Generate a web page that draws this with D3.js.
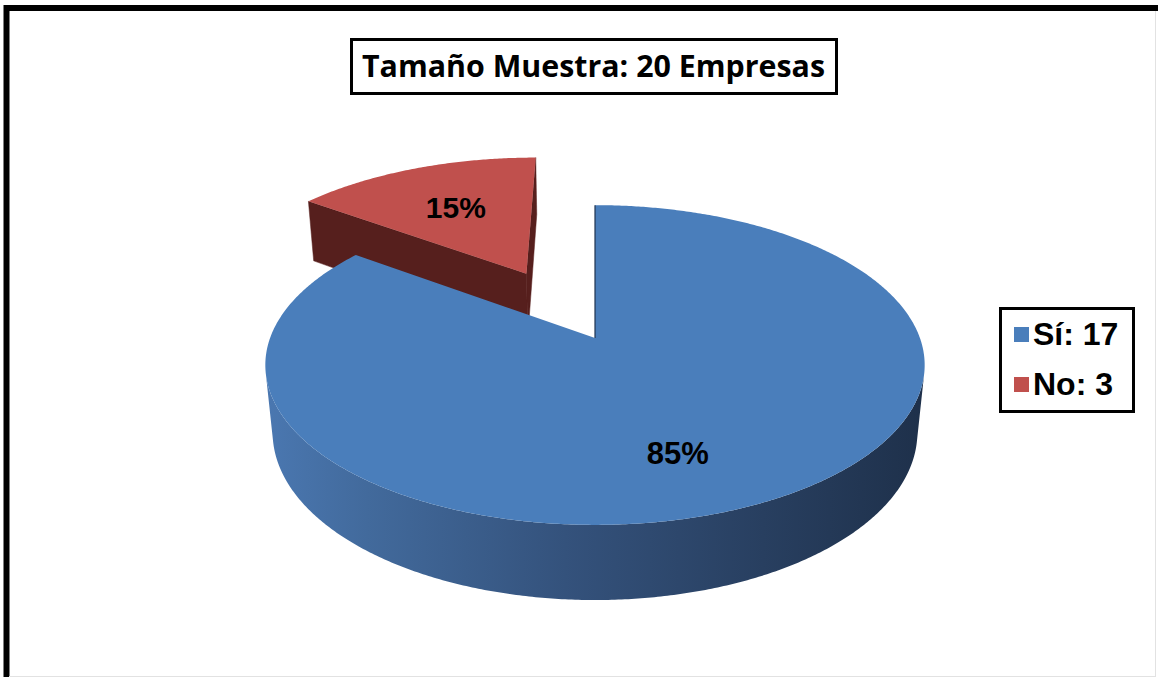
<!DOCTYPE html>
<html>
<head>
<meta charset="utf-8">
<script src="https://cdn.jsdelivr.net/npm/d3@7"></script>
<style>
  body { margin: 0; background: #fff; }
  svg { display: block; }
</style>
</head>
<body>
<div id="chart"></div>
<script>
// chart data
const categories = ["Sí", "No"];
const counts = [17, 3];
const topColors = ["#4a7ebb", "#c0504d"];
const cutColors = ["#1f3350", "#561f1d"];
const explodeBy = [0, 0.5];
const titleWord = "Tamaño Muestra:";
const titleUnit = "Empresas";

const width = 1158, height = 677;
const total = d3.sum(counts);

const svg = d3.select("#chart").append("svg")
    .attr("width", width)
    .attr("height", height);

// blue side gradient, light on the left and dark on the right
const defs = svg.append("defs");
const grad = defs.append("linearGradient")
    .attr("id", "sideBlue")
    .attr("gradientUnits", "userSpaceOnUse")
    .attr("x1", 268).attr("x2", 928).attr("y1", 0).attr("y2", 0);
grad.selectAll("stop")
    .data([[0, "#4a77b0"], [0.15, "#426a9c"], [0.45, "#34527c"], [0.75, "#283f60"], [1, "#1e304a"]])
    .enter().append("stop")
    .attr("offset", d => d[0] * 100 + "%")
    .attr("stop-color", d => d[1]);

// outer frame
svg.append("line").attr("x1", 6.5).attr("x2", 6.5).attr("y1", 5).attr("y2", height)
    .attr("stroke", "#000").attr("stroke-width", 6);
svg.append("line").attr("x1", 4).attr("x2", width).attr("y1", 8).attr("y2", 8)
    .attr("stroke", "#000").attr("stroke-width", 6);
svg.append("line").attr("x1", 1155.5).attr("x2", 1155.5).attr("y1", 11).attr("y2", height)
    .attr("stroke", "#e2e2e2").attr("stroke-width", 1);
svg.append("line").attr("x1", 9).attr("x2", 1156).attr("y1", 676.5).attr("y2", 676.5)
    .attr("stroke", "#e2e2e2").attr("stroke-width", 1);

// simple perspective camera for the 3d pie
const cam = {
    ox: 595, oy: 338,        // screen position of pie centre
    f: 1688, D: 5.195,       // focal length, camera distance (radius = 1)
    cos: 0.878, sin: 0.478,  // elevation angle
    h: 0.239                 // pie thickness
};
const camPos = [0, cam.D * cam.sin, cam.D * cam.cos];

function project(X, Y, Z) {
    const yc = Y * cam.cos - Z * cam.sin;
    const depth = cam.D - Y * cam.sin - Z * cam.cos;
    return [cam.ox + cam.f * X / depth, cam.oy - cam.f * yc / depth];
}

// visible if the face normal points towards the camera
function facing(n, p) {
    return n[0] * (camPos[0] - p[0]) + n[1] * (camPos[1] - p[1]) + n[2] * (camPos[2] - p[2]) > 0;
}

const pie = d3.pie().sort(null).startAngle(0).endAngle(2 * Math.PI);
const arcs = pie(counts);
const line = d3.line();

arcs.forEach((a, i) => {
    const mid = (a.startAngle + a.endAngle) / 2;
    a.offX = explodeBy[i] * Math.sin(mid);
    a.offZ = -explodeBy[i] * Math.cos(mid);
    a.index = i;
});

const rim = (a, t, Y) => project(a.offX + Math.sin(t), Y, a.offZ - Math.cos(t));
const centre = (a, Y) => project(a.offX, Y, a.offZ);

// back slice first, then the front slice covers it
const order = arcs.slice().sort((p, q) => q.index - p.index);
const pieG = svg.append("g");

order.forEach(a => {
    const g = pieG.append("g");
    const i = a.index;
    const steps = Math.max(8, Math.ceil((a.endAngle - a.startAngle) / (Math.PI / 360)));
    const ts = d3.range(steps + 1).map(k => a.startAngle + (a.endAngle - a.startAngle) * k / steps);

    // cut faces
    [[a.startAngle, -1], [a.endAngle, 1]].forEach(([t, s]) => {
        const n = [s * Math.cos(t), 0, s * Math.sin(t)];
        if (!facing(n, [a.offX, 0, a.offZ])) return;
        g.append("path")
            .attr("d", line([centre(a, 0), rim(a, t, 0), rim(a, t, -cam.h), centre(a, -cam.h)]) + "Z")
            .attr("fill", cutColors[i])
            .attr("stroke", cutColors[i]).attr("stroke-width", 0.5);
    });

    // outer side: one polygon per run of camera-facing angles
    const runs = [];
    let run = null;
    ts.forEach(t => {
        const n = [Math.sin(t), 0, -Math.cos(t)];
        const p = [a.offX + Math.sin(t), -cam.h / 2, a.offZ - Math.cos(t)];
        if (facing(n, p)) {
            if (!run) { run = []; runs.push(run); }
            run.push(t);
        } else {
            run = null;
        }
    });
    const sideFill = i === 0 ? "url(#sideBlue)" : cutColors[i];
    runs.filter(r => r.length > 1).forEach(r => {
        const pts = r.map(t => rim(a, t, 0)).concat(r.slice().reverse().map(t => rim(a, t, -cam.h)));
        g.append("path")
            .attr("d", line(pts) + "Z")
            .attr("fill", sideFill);
    });

    // top face
    g.append("path")
        .attr("d", line([centre(a, 0)].concat(ts.map(t => rim(a, t, 0)))) + "Z")
        .attr("fill", topColors[i]);
});

// thin dark edge at the 12 o'clock cut of the big slice
svg.append("path")
    .attr("d", line([centre(arcs[0], 0), rim(arcs[0], 0, 0)]))
    .attr("stroke", "#1f3350").attr("stroke-width", 1.2);

// percentage labels
const labelPlace = [{ angle: 161, r: 0.695 }, { angle: 333, r: 0.6 }];
const fmt = d3.format(".0%");
arcs.forEach((a, i) => {
    const t = labelPlace[i].angle * Math.PI / 180, r = labelPlace[i].r;
    const p = project(a.offX + r * Math.sin(t), 0, a.offZ - r * Math.cos(t));
    svg.append("text")
        .attr("x", p[0]).attr("y", p[1] + 11)
        .attr("text-anchor", "middle")
        .style("font-family", "'Liberation Sans', Arial, sans-serif")
        .style("font-weight", "bold")
        .style("font-size", i === 0 ? "31px" : "30px")
        .attr("fill", "#000")
        .text(fmt(a.value / total));
});

// title box
svg.append("rect")
    .attr("x", 351.5).attr("y", 39.5).attr("width", 485).attr("height", 54)
    .attr("fill", "#fff").attr("stroke", "#000").attr("stroke-width", 3);
svg.append("text")
    .attr("x", 593.5).attr("y", 77)
    .attr("text-anchor", "middle")
    .attr("textLength", 463).attr("lengthAdjust", "spacingAndGlyphs")
    .style("font-family", "'Open Sans', sans-serif")
    .style("font-weight", "bold")
    .style("font-size", "30px")
    .text(`${titleWord} ${total} ${titleUnit}`);

// legend
const legend = svg.append("g");
legend.append("rect")
    .attr("x", 1000.5).attr("y", 308.5).attr("width", 133).attr("height", 103)
    .attr("fill", "#fff").attr("stroke", "#000").attr("stroke-width", 3);
const items = legend.selectAll("g.item")
    .data(categories)
    .enter().append("g")
    .attr("class", "item")
    .attr("transform", (d, i) => `translate(1014,${327 + i * 50})`);
items.append("rect")
    .attr("width", 15).attr("height", 15)
    .attr("fill", (d, i) => topColors[i]);
items.append("text")
    .attr("x", 19).attr("y", 18)
    .style("font-family", "'Liberation Sans', Arial, sans-serif")
    .style("font-weight", "bold")
    .style("font-size", "32px")
    .text((d, i) => `${d}: ${counts[i]}`);
</script>
</body>
</html>
